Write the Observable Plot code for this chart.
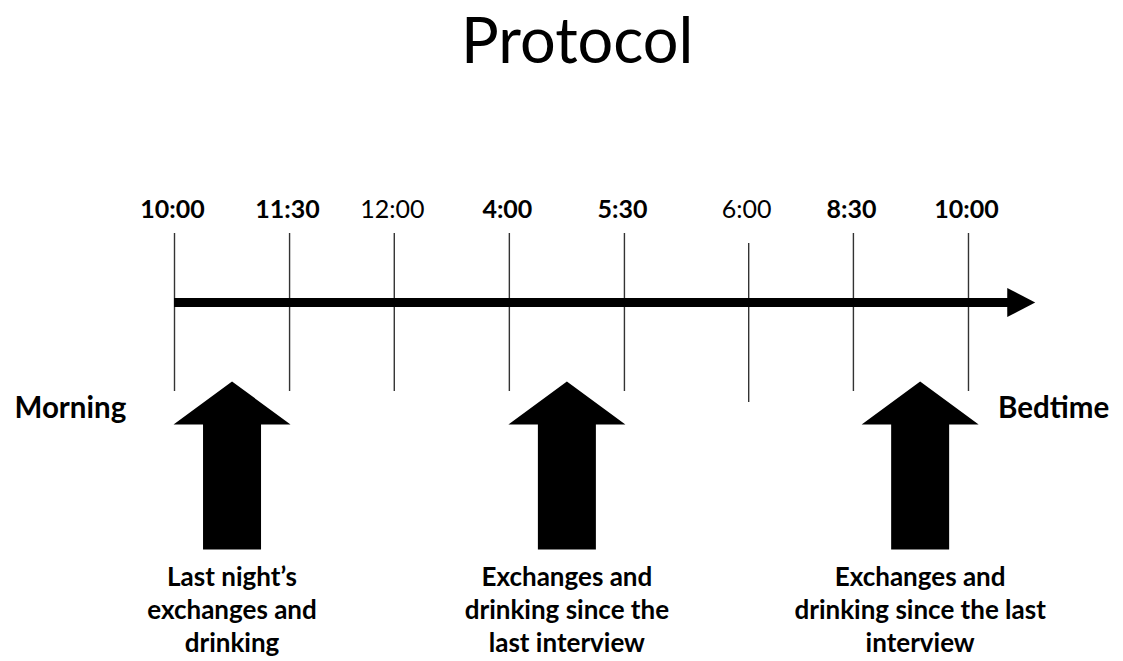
<!DOCTYPE html>
<html>
<head>
<meta charset="utf-8">
<script src="https://cdn.jsdelivr.net/npm/d3@7"></script>
<script src="https://cdn.jsdelivr.net/npm/@observablehq/plot@0.6"></script>
<style>
  html, body { margin: 0; padding: 0; background: #fff; }
  #chart svg { display: block; }
</style>
</head>
<body>
<div id="chart"></div>
<script>
// ---- data (positions along the timeline in "slot" units) ----
const title = "Protocol";
const tickLabels = ["10:00", "11:30", "12:00", "4:00", "5:30", "6:00", "8:30", "10:00"];
const tickSlots  = [0, 1.0, 1.91, 2.91, 3.91, 4.99, 5.9, 6.9];
const tickBold   = [true, true, false, true, true, false, true, true];
const tickDropped = [false, false, false, false, false, true, false, false];
const interviewSlots  = [0.5, 3.41, 6.48];
const interviewLabels = [
  "Last night’s\nexchanges and\ndrinking",
  "Exchanges and\ndrinking since the\nlast interview",
  "Exchanges and\ndrinking since the last\ninterview"
];
const endLabels = ["Morning", "Bedtime"];
const endSlots  = [-0.905, 7.64];
const timelineEnd = 7.48;

// ---- tables built from arrays ----
const ticks = tickLabels.map((label, i) => ({label, slot: tickSlots[i], bold: tickBold[i], dropped: tickDropped[i]}));
const interviews = interviewSlots.map((slot, i) => ({slot, label: interviewLabels[i]}));
const ends = endLabels.map((label, i) => ({label, slot: endSlots[i]}));

// ---- style constants ----
const W = 1123, H = 661;
const pxPerSlot = 115.07, originPx = 174;
const FONT = "Lato, 'Open Sans', sans-serif";
const lineY = 302;
const headLen = 28, headHalf = 14.5;

// custom symbols (drawn relative to the arrow tip)
const blockArrow = {
  draw(ctx) {
    ctx.moveTo(0, 0);
    ctx.lineTo(58.5, 43);
    ctx.lineTo(29, 43);
    ctx.lineTo(29, 168);
    ctx.lineTo(-29, 168);
    ctx.lineTo(-29, 43);
    ctx.lineTo(-58.5, 43);
    ctx.closePath();
  }
};
const arrowHead = {
  draw(ctx) {
    ctx.moveTo(0, 0);
    ctx.lineTo(-headLen, -headHalf);
    ctx.lineTo(-headLen, headHalf);
    ctx.closePath();
  }
};

const chart = Plot.plot({
  width: W,
  height: H,
  margin: 0,
  style: {fontFamily: FONT, background: "#fff", overflow: "visible"},
  x: {domain: [-originPx / pxPerSlot, (W - originPx) / pxPerSlot], range: [0, W], axis: null},
  y: {domain: [0, H], range: [0, H], axis: null},
  marks: [
    // title
    Plot.text([title], {x: () => 3.5, y: () => 42, text: d => d, fontSize: 63, fill: "#000"}),
    // vertical tick lines
    Plot.ruleX(ticks, {x: "slot", y1: d => d.dropped ? 243 : 233, y2: d => d.dropped ? 402 : 391, stroke: "#333", strokeWidth: 1.4}),
    // timeline
    Plot.ruleY([lineY], {x1: () => 0, x2: () => timelineEnd - (headLen - 6) / pxPerSlot, stroke: "#000", strokeWidth: 9}),
    Plot.dot([timelineEnd], {x: d => d, y: () => lineY, symbol: arrowHead, r: 5, fill: "#000", stroke: null}),
    // tick labels
    Plot.text(ticks.filter(d => d.bold), {x: "slot", y: () => 209, dx: -2, text: "label", fontSize: 25, fontWeight: "bold", fill: "#000"}),
    Plot.text(ticks.filter(d => !d.bold), {x: "slot", y: () => 209, dx: -2, text: "label", fontSize: 25, fontWeight: "normal", fill: "#000"}),
    // end labels
    Plot.text(ends, {x: "slot", y: () => 408, text: "label", fontSize: 29.5, fontWeight: "bold", fill: "#000"}),
    // interview block arrows
    Plot.dot(interviews, {x: "slot", y: () => 381, symbol: blockArrow, r: 5, fill: "#000", stroke: null}),
    // interview labels
    Plot.text(interviews, {x: "slot", y: () => 562, text: "label", lineAnchor: "top", lineHeight: 1.27, fontSize: 26, fontWeight: "bold", fill: "#000"})
  ]
});
document.getElementById("chart").appendChild(chart);
</script>
</body>
</html>
